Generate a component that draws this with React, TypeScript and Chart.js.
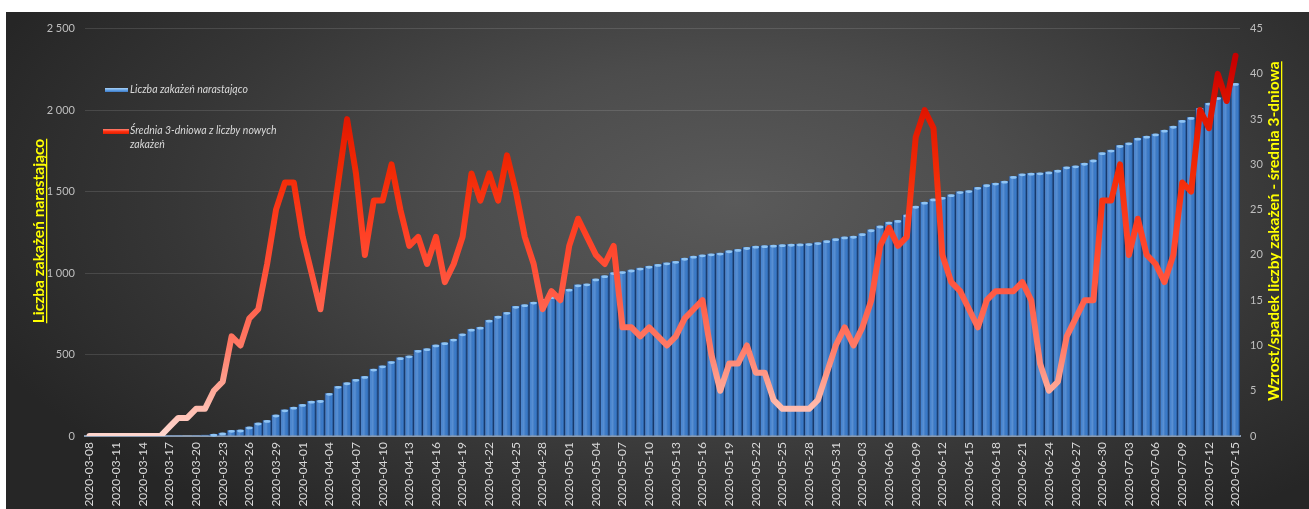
import React, { useEffect, useRef } from 'react';
import { Chart, registerables } from 'chart.js';
Chart.register(...registerables);

// Category spec: month, first day, last day
const monthSpans: [string, number, number][] = [
  ['03', 8, 31],
  ['04', 1, 30],
  ['05', 1, 31],
  ['06', 1, 30],
  ['07', 1, 15],
];
const categories: string[] = [];
monthSpans.forEach(([m, a, b]) => {
  for (let d = a; d <= b; d++) categories.push(`2020-${m}-${String(d).padStart(2, '0')}`);
});

// Cumulative cases (left axis)
const cumMarch = [0, 0, 0, 0, 0, 0, 0, 0, 0, 1, 2, 3, 5, 7, 12, 20, 36, 38, 57, 81, 97, 130, 162, 178];
const cumApril = [195, 215, 219, 263, 306, 328, 349, 367, 412, 432, 458, 482, 493, 527, 537, 560, 574, 596, 628, 657, 669, 712, 736, 760, 797, 807, 823, 840, 856, 872];
const cumMay = [902, 929, 935, 965, 985, 1004, 1010, 1020, 1032, 1043, 1054, 1064, 1073, 1092, 1105, 1113, 1119, 1124, 1138, 1146, 1158, 1166, 1169, 1172, 1175, 1178, 1180, 1182, 1188, 1200, 1212];
const cumJune = [1223, 1227, 1243, 1267, 1290, 1314, 1324, 1358, 1411, 1436, 1456, 1466, 1482, 1501, 1507, 1527, 1543, 1553, 1565, 1594, 1610, 1614, 1616, 1622, 1632, 1653, 1659, 1675, 1695, 1740];
const cumJuly = [1756, 1784, 1800, 1829, 1841, 1855, 1878, 1902, 1938, 1956, 2013, 2044, 2078, 2115, 2165];
const cumulative = [...cumMarch, ...cumApril, ...cumMay, ...cumJune, ...cumJuly];

// 3-day average of new cases (right axis)
const avgMarch = [0, 0, 0, 0, 0, 0, 0, 0, 0, 1, 2, 2, 3, 3, 5, 6, 11, 10, 13, 14, 19, 25, 28, 28];
const avgApril = [22, 18, 14, 21, 28, 35, 29, 20, 26, 26, 30, 25, 21, 22, 19, 22, 17, 19, 22, 29, 26, 29, 26, 31, 27, 22, 19, 14, 16, 15];
const avgMay = [21, 24, 22, 20, 19, 21, 12, 12, 11, 12, 11, 10, 11, 13, 14, 15, 9, 5, 8, 8, 10, 7, 7, 4, 3, 3, 3, 3, 4, 7, 10];
const avgJune = [12, 10, 12, 15, 21, 23, 21, 22, 33, 36, 34, 20, 17, 16, 14, 12, 15, 16, 16, 16, 17, 15, 8, 5, 6, 11, 13, 15, 15, 26];
const avgJuly = [26, 30, 20, 24, 20, 19, 17, 20, 28, 27, 36, 34, 40, 37, 42];
const average3 = [...avgMarch, ...avgApril, ...avgMay, ...avgJune, ...avgJuly];

const leftTicks = [0, 500, 1000, 1500, 2000, 2500];
const rightTicks = [0, 5, 10, 15, 20, 25, 30, 35, 40, 45];

const seriesNames = ['Liczba zakażeń narastająco', 'Średnia 3-dniowa z liczby nowych', 'zakażeń'];
const leftTitle = 'Liczba zakażeń narastająco';
const rightTitle = 'Wzrost/spadek liczby zakażeń - średnia 3-dniowa';

const FONT = 'Lato, "Open Sans", sans-serif';

const fmtThousands = (v: number) =>
  v >= 1000 ? `${Math.floor(v / 1000)} ${String(v % 1000).padStart(3, '0')}` : String(v);

const barDeco = {
  id: 'barDeco',
  afterDatasetDraw(chart: any, args: any) {
    if (args.index !== 0) return;
    const ctx = chart.ctx as CanvasRenderingContext2D;
    ctx.save();
    args.meta.data.forEach((el: any) => {
      const { x, y, base, width } = el.getProps(['x', 'y', 'base', 'width'], true);
      if (base - y < 1) return;
      const left = x - width / 2;
      const g = ctx.createLinearGradient(left, 0, left + width, 0);
      g.addColorStop(0, 'rgba(15,40,85,0.55)');
      g.addColorStop(0.15, 'rgba(255,255,255,0.06)');
      g.addColorStop(0.4, 'rgba(255,255,255,0.16)');
      g.addColorStop(0.75, 'rgba(0,0,0,0)');
      g.addColorStop(1, 'rgba(10,30,70,0.5)');
      ctx.fillStyle = g;
      ctx.fillRect(left, y, width, base - y);
      ctx.fillStyle = '#8fc4f4';
      ctx.beginPath();
      ctx.ellipse(x, y + 1.2, Math.max(width / 2 - 1.2, 1), 1.4, 0, 0, Math.PI * 2);
      ctx.fill();
    });
    ctx.restore();
  },
};

const decorations = {
  id: 'decorations',
  afterDraw(chart: any) {
    const ctx = chart.ctx as CanvasRenderingContext2D;
    ctx.save();
    const drawTitle = (text: string, cx: number, cy: number) => {
      ctx.save();
      ctx.translate(cx, cy);
      ctx.rotate(-Math.PI / 2);
      ctx.font = `bold 15.5px ${FONT}`;
      ctx.fillStyle = '#ffff00';
      ctx.textAlign = 'center';
      ctx.textBaseline = 'alphabetic';
      ctx.fillText(text, 0, 5);
      const w = ctx.measureText(text).width;
      ctx.fillRect(-w / 2, 7, w, 1.3);
      ctx.restore();
    };
    drawTitle(leftTitle, 33, 219);
    drawTitle(rightTitle, 1268, 219);

    const bg = ctx.createLinearGradient(0, 76, 0, 81);
    bg.addColorStop(0, '#a9d2f7');
    bg.addColorStop(0.5, '#5b9be2');
    bg.addColorStop(1, '#2d64b0');
    ctx.fillStyle = bg;
    ctx.fillRect(99, 76, 23, 4);
    const rg = ctx.createLinearGradient(0, 117, 0, 122);
    rg.addColorStop(0, '#ff8070');
    rg.addColorStop(0.5, '#ff3010');
    rg.addColorStop(1, '#e02000');
    ctx.fillStyle = rg;
    ctx.fillRect(97, 117, 26, 5);

    ctx.font = `italic 10.5px ${FONT}`;
    ctx.fillStyle = '#d9d9d9';
    ctx.textAlign = 'left';
    ctx.textBaseline = 'middle';
    ctx.fillText(seriesNames[0], 124, 78);
    ctx.fillText(seriesNames[1], 124, 119);
    ctx.fillText(seriesNames[2], 124, 133);
    ctx.restore();
  },
};

export default function App() {
  const ref = useRef<HTMLCanvasElement | null>(null);

  useEffect(() => {
    if (!ref.current) return;
    const lineColor = (context: any) => {
      const { chart } = context;
      const area = chart.chartArea;
      if (!area) return '#ff4020';
      const g = chart.ctx.createLinearGradient(0, area.bottom, 0, area.top);
      g.addColorStop(0, '#ffd8d0');
      g.addColorStop(0.1, '#ffae9e');
      g.addColorStop(0.22, '#ff7a66');
      g.addColorStop(0.35, '#ff5a44');
      g.addColorStop(0.5, '#ff4024');
      g.addColorStop(0.65, '#f22a05');
      g.addColorStop(0.8, '#e01500');
      g.addColorStop(0.92, '#c80000');
      g.addColorStop(1, '#bb0000');
      return g;
    };

    const chart = new Chart(ref.current, {
      type: 'bar',
      data: {
        labels: categories,
        datasets: [
          {
            type: 'bar',
            label: seriesNames[0],
            data: cumulative,
            yAxisID: 'y',
            backgroundColor: '#3a7bcb',
            borderColor: '#1f4c8a',
            borderWidth: { left: 1, right: 1, top: 0, bottom: 0 },
            borderSkipped: false,
            barPercentage: 1,
            categoryPercentage: 1,
            order: 2,
          } as any,
          {
            type: 'line',
            label: seriesNames[1],
            data: average3,
            yAxisID: 'y1',
            borderColor: lineColor,
            borderWidth: 6,
            pointRadius: 0,
            tension: 0,
            borderJoinStyle: 'round',
            borderCapStyle: 'round',
            order: 1,
          } as any,
        ],
      },
      options: {
        animation: false,
        responsive: false,
        maintainAspectRatio: false,
        layout: { padding: { top: 13, left: 0, right: 0, bottom: 0 } },
        plugins: { legend: { display: false }, tooltip: { enabled: false } },
        scales: {
          x: {
            grid: { display: false, drawTicks: false },
            border: { display: true, color: '#8a9bb0', width: 2 },
            ticks: {
              autoSkip: false,
              maxRotation: 90,
              minRotation: 90,
              padding: 6,
              color: '#d9d9d9',
              font: { family: FONT, size: 12 },
              callback: (_v: any, i: number) => (i % 3 === 0 ? categories[i] : ''),
            },
            afterFit: (s: any) => {
              s.height = 73;
            },
          },
          y: {
            position: 'left',
            min: 0,
            max: 2500,
            afterBuildTicks: (s: any) => {
              s.ticks = leftTicks.map((v) => ({ value: v }));
            },
            grid: { color: 'rgba(255,255,255,0.12)', lineWidth: 1, drawTicks: false },
            border: { display: false },
            ticks: {
              padding: 10,
              color: '#bfbfbf',
              font: { family: FONT, size: 11 },
              callback: (v: any) => fmtThousands(Number(v)),
            },
            afterFit: (s: any) => {
              s.width = 79;
            },
          },
          y1: {
            position: 'right',
            min: 0,
            max: 45,
            afterBuildTicks: (s: any) => {
              s.ticks = rightTicks.map((v) => ({ value: v }));
            },
            grid: { display: false, drawTicks: false },
            border: { display: false },
            ticks: {
              padding: 10,
              color: '#bfbfbf',
              font: { family: FONT, size: 11 },
            },
            afterFit: (s: any) => {
              s.width = 69;
            },
          },
        },
      },
      plugins: [barDeco, decorations],
    } as any);
    return () => chart.destroy();
  }, []);

  return (
    <div
      style={{
        position: 'absolute',
        left: 6,
        top: 12,
        width: 1303,
        height: 497,
        background:
          'radial-gradient(ellipse 62% 80% at 56% 38%, #5a5a5a 0%, #4c4c4c 35%, #363636 70%, #262626 100%)',
      }}
    >
      <canvas ref={ref} width={1303} height={497} style={{ display: 'block' }} />
    </div>
  );
}
